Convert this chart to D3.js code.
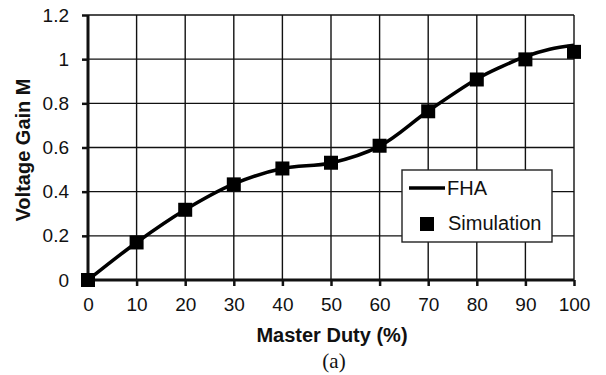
<!DOCTYPE html>
<html>
<head>
<meta charset="utf-8">
<script src="https://cdn.jsdelivr.net/npm/d3@7"></script>
<style>
  body { margin: 0; background: #fff; }
  text { font-family: "Liberation Sans", Arial, sans-serif; fill: #111; }
</style>
</head>
<body>
<script>
// duty cycle (%) and voltage gain
var duty = [0, 10, 20, 30, 40, 50, 60, 70, 80, 90, 100];
var simGain = [0, 0.17, 0.318, 0.433, 0.505, 0.531, 0.608, 0.764, 0.908, 0.999, 1.033];
var fhaDuty = [0, 10, 20, 30, 40, 50, 60, 70, 80, 85, 90, 95, 100];
var fhaGain = [0, 0.17, 0.318, 0.435, 0.505, 0.53, 0.606, 0.765, 0.91, 0.965, 1.012, 1.045, 1.063];
var xTicks = [0, 10, 20, 30, 40, 50, 60, 70, 80, 90, 100];
var yTicks = [0, 0.2, 0.4, 0.6, 0.8, 1, 1.2];

var width = 606, height = 375;
var plotL = 88, plotR = 574, plotT = 15, plotB = 280;

var svg = d3.select("body").append("svg")
    .attr("width", width)
    .attr("height", height);

var x = d3.scaleLinear().domain([0, 100]).range([plotL, plotR]);
var y = d3.scaleLinear().domain([0, 1.2]).range([plotB, plotT]);

// grid
svg.append("g")
    .selectAll("line")
    .data(xTicks.slice(1))
    .join("line")
    .attr("x1", d => x(d)).attr("x2", d => x(d))
    .attr("y1", plotT).attr("y2", plotB)
    .attr("stroke", "#111").attr("stroke-width", 1.4);

svg.append("g")
    .selectAll("line")
    .data(yTicks.slice(1))
    .join("line")
    .attr("x1", plotL).attr("x2", plotR)
    .attr("y1", d => y(d)).attr("y2", d => y(d))
    .attr("stroke", "#111").attr("stroke-width", 1.4);

// axes
var xAxis = svg.append("g")
    .attr("transform", "translate(0," + plotB + ")")
    .call(d3.axisBottom(x).tickValues(xTicks).tickSize(6).tickPadding(12).tickFormat(d3.format("d")));
var yAxis = svg.append("g")
    .attr("transform", "translate(" + plotL + ",0)")
    .call(d3.axisLeft(y).tickValues(yTicks).tickSize(6).tickPadding(13).tickFormat(d => String(d)));

[xAxis, yAxis].forEach(function(a) {
    a.select(".domain").attr("stroke", "#111").attr("stroke-width", 3);
    a.selectAll(".tick line").attr("stroke", "#111").attr("stroke-width", 2.5);
    a.selectAll(".tick text")
        .attr("font-size", 19)
        .attr("font-family", "Liberation Sans, Arial, sans-serif")
        .attr("fill", "#111");
});
xAxis.select(".domain").attr("d", "M" + plotL + ",0H" + plotR);
yAxis.select(".domain").attr("d", "M0," + plotB + "V" + plotT);

// FHA curve
var line = d3.line()
    .x((d, i) => x(fhaDuty[i]))
    .y(d => y(d))
    .curve(d3.curveCatmullRom);

svg.append("path")
    .datum(fhaGain)
    .attr("d", line)
    .attr("fill", "none")
    .attr("stroke", "#000")
    .attr("stroke-width", 3.5);

// simulation markers
var ms = 14;
svg.append("g")
    .selectAll("rect")
    .data(simGain)
    .join("rect")
    .attr("x", (d, i) => x(duty[i]) - ms / 2)
    .attr("y", d => y(d) - ms / 2)
    .attr("width", ms).attr("height", ms)
    .attr("fill", "#000");

// legend
var lg = svg.append("g").attr("transform", "translate(402,170)");
lg.append("rect")
    .attr("width", 150).attr("height", 72)
    .attr("fill", "#fff").attr("stroke", "#222").attr("stroke-width", 1.4);
lg.append("line")
    .attr("x1", 7).attr("x2", 43).attr("y1", 18).attr("y2", 18)
    .attr("stroke", "#000").attr("stroke-width", 3.5);
lg.append("text").attr("x", 45).attr("y", 24.5).attr("font-size", 20).text("FHA");
lg.append("rect")
    .attr("x", 18).attr("y", 47).attr("width", 14).attr("height", 14)
    .attr("fill", "#000");
lg.append("text").attr("x", 46).attr("y", 60).attr("font-size", 20).text("Simulation");

// titles
svg.append("text")
    .attr("x", 332).attr("y", 342)
    .attr("text-anchor", "middle")
    .attr("font-size", 20).attr("font-weight", "bold")
    .text("Master Duty (%)");

svg.append("text")
    .attr("transform", "translate(30,150) rotate(-90)")
    .attr("text-anchor", "middle")
    .attr("font-size", 20).attr("font-weight", "bold")
    .text("Voltage Gain M");

svg.append("text")
    .attr("x", 334).attr("y", 368)
    .attr("text-anchor", "middle")
    .attr("font-size", 21)
    .style("font-family", "Liberation Serif, Times New Roman, serif")
    .text("(a)");
</script>
</body>
</html>
